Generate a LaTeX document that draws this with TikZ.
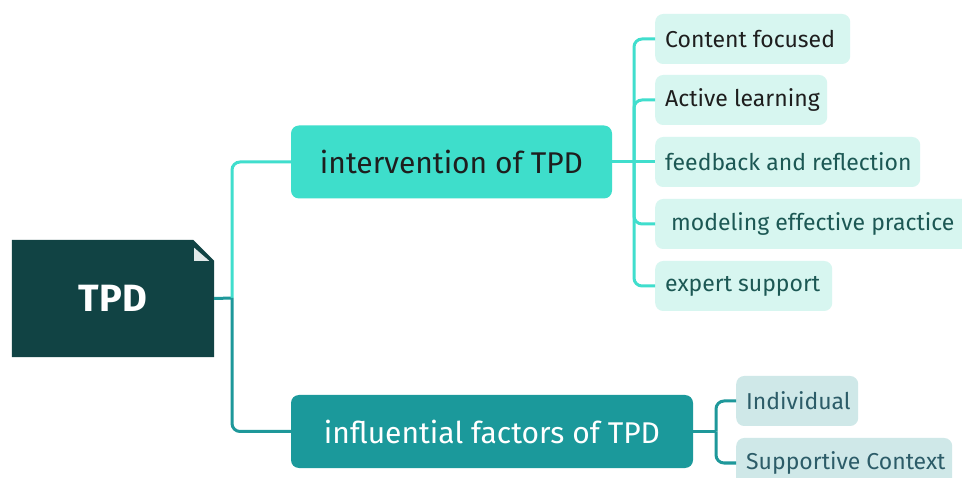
\documentclass[tikz,border=0pt]{standalone}
\usepackage{fontspec}
\setmainfont{Fira Sans}
\usetikzlibrary{backgrounds}
\definecolor{tpddark}{RGB}{17,67,68}
\definecolor{interc}{RGB}{62,222,203}
\definecolor{inflc}{RGB}{27,153,155}
\definecolor{childc}{RGB}{215,246,240}
\definecolor{fchildc}{RGB}{207,232,232}
\definecolor{toplinec}{RGB}{64,222,205}
\definecolor{botlinec}{RGB}{30,152,154}
\definecolor{txtdark}{RGB}{30,30,30}
\definecolor{txtteal}{RGB}{28,88,84}
\definecolor{txtgray}{RGB}{44,92,104}
\begin{document}
\begin{tikzpicture}[x=1pt,y=-1pt,
  mainbox/.style={rounded corners=8pt, minimum height=73pt, inner sep=0pt, font=\fontsize{30}{34}\selectfont},
  childbox/.style={rounded corners=8pt, fill=childc, minimum height=50pt, inner sep=0pt, anchor=west, font=\fontsize{23}{27}\selectfont},
  fbox/.style={rounded corners=8pt, fill=fchildc, minimum height=50pt, inner sep=0pt, anchor=west, font=\fontsize{23}{27}\selectfont, text=txtgray},
  topline/.style={draw=toplinec, line width=3pt, rounded corners=8pt},
  botline/.style={draw=botlinec, line width=3pt, rounded corners=8pt}]
\useasboundingbox (0,0) rectangle (962,478);
\clip (0,0) rectangle (962,478);

% root
\node[minimum width=202pt, minimum height=117pt, inner sep=0pt, text=white,
      font=\fontsize{38}{42}\selectfont\bfseries] (tpd) at (113,298.5) {TPD};
\begin{scope}[on background layer]
\fill[white] (0,0) rectangle (962,478);
\fill[tpddark] (tpd.south west) -- (tpd.north west) -- ([xshift=-21pt]tpd.north east)
  -- ([yshift=-21pt]tpd.north east) -- (tpd.south east) -- cycle;
\fill[white!88!tpddark] ([xshift=-20pt,yshift=-8pt]tpd.north east) -- ([xshift=-20pt,yshift=-21pt]tpd.north east) -- ([xshift=-5pt,yshift=-21pt]tpd.north east) -- cycle;
\end{scope}

% main branches
\node[mainbox, fill=interc, minimum width=321pt, text=txtdark] (inter) at (451.5,162) {intervention of TPD};
\node[mainbox, fill=inflc, minimum width=402pt, text=white] (infl) at (492,431.5) {influential factors of TPD};

\coordinate (jt) at (232,298);
\draw[botline] (tpd.east) -- (jt);
\draw[topline] (jt) |- (inter.west);
\draw[botline] (jt) |- (infl.west);

% intervention children
\node[childbox, minimum width=195pt, text=txtdark] (c1) at (655,39) {\makebox[175pt][l]{Content focused}};
\node[childbox, minimum width=172pt, text=txtdark] (c2) at (655,100) {\makebox[152pt][l]{Active learning}};
\node[childbox, minimum width=265pt, text=txtteal] (c3) at (655,162) {\makebox[245pt][l]{feedback and reflection}};
\node[childbox, minimum width=330pt, text=txtteal] (c4) at (655,224) {\makebox[310pt][l]{\hspace{6pt}modeling effective practice}};
\node[childbox, minimum width=177pt, text=txtteal] (c5) at (655,286) {\makebox[157pt][l]{expert support}};

\coordinate (ji) at (634,162);
\draw[topline] (inter.east) -- (ji);
\draw[topline] (ji) |- (c1.west);
\draw[topline] (ji) |- (c2.west);
\draw[topline] (ji) -- (c3.west);
\draw[topline] (ji) |- (c4.west);
\draw[topline] (ji) |- (c5.west);

% influential children
\node[fbox, minimum width=122pt] (f1) at (736,401) {\makebox[102pt][l]{Individual}};
\node[fbox, minimum width=216pt] (f2) at (736,463) {\makebox[196pt][l]{Supportive Context}};

\coordinate (jf) at (716,431.5);
\draw[botline] (infl.east) -- (jf);
\draw[botline] (jf) |- (f1.west);
\draw[botline] (jf) |- (f2.west);
\end{tikzpicture}
\end{document}
